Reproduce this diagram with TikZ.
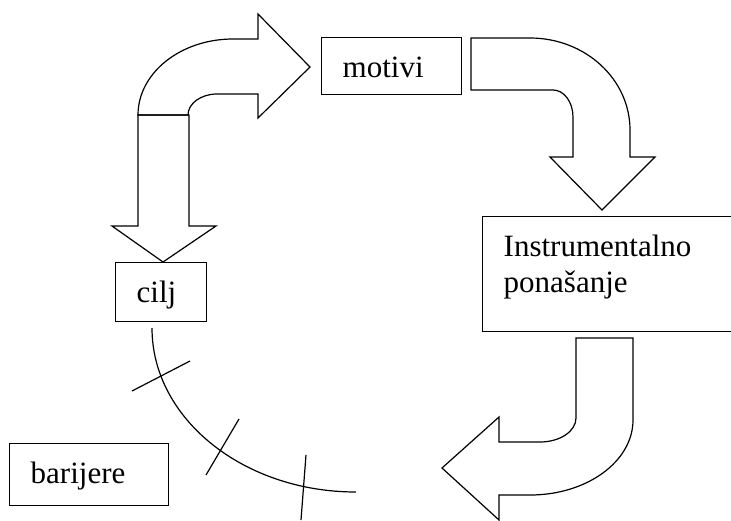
\documentclass[tikz,border=0pt]{standalone}
\usepackage{fontspec}
\setmainfont{Liberation Serif}
\usepackage{tikz}

\tikzset{
  box/.style={draw, line width=1.4pt, anchor=north west, inner xsep=21pt, inner ysep=0pt,
    align=left, text height=40pt, font=\fontsize{31}{36}\selectfont},
  bent/.style={draw, line width=1.2pt, line join=miter},
  barrier/.style={line width=1.2pt}
}

\begin{document}
\begin{tikzpicture}[x=1pt,y=-1pt]
\useasboundingbox (0,0) rectangle (731,520);
% boxes
\node[box, text width=98pt, text depth=17pt] (motivi) at (321,37) {motivi};
\node[box, text width=49pt, text depth=19pt] (cilj) at (115,262) {cilj};
\node[box, text width=117pt, text depth=22pt] (barijere) at (9,443) {barijere};
\node[box, text width=258pt, text depth=75pt] (instr) at (482,216) {Instrumentalno\\ponašanje};
% cilj -> motivi
\draw[bent] (138,115) arc[start angle=180, end angle=270, x radius=95, y radius=76]
  -- (258,39) -- (258,14) -- (310,67) -- (258,118) -- (258,94) -- (217,94)
  arc[start angle=270, end angle=180, x radius=29, y radius=21] -- cycle;
\draw[bent] (138,115) -- (138,226) -- (112,226) -- (163,262) -- (216,226) -- (189,226) -- (189,115) -- cycle;
% motivi -> instr
\draw[bent] (471,38) -- (530,38) arc[start angle=270, end angle=360, x radius=100, y radius=92]
  -- (630,157) -- (655,157) -- (602,210) -- (550,157) -- (573,157) -- (573,117)
  arc[start angle=0, end angle=-90, x radius=20, y radius=27] -- (471,90) -- cycle;
% instr -> back
\draw[bent] (576,338) -- (633,338) -- (633,420) arc[start angle=0, end angle=90, x radius=103, y radius=75]
  -- (499,495) -- (499,520) -- (442,468) -- (499,417) -- (499,442) -- (540,442)
  arc[start angle=90, end angle=0, x radius=36, y radius=24] -- cycle;
% barijere
\coordinate (a0) at (152,328);
\draw[barrier] (a0) arc[start angle=180, end angle=90, x radius=204, y radius=164];
\foreach \ax/\ay/\bx/\by in {132/391/190/361, 206/475/239/419, 301/520/306/455}
  \draw[barrier] (\ax,\ay) -- (\bx,\by);
\end{tikzpicture}
\end{document}
